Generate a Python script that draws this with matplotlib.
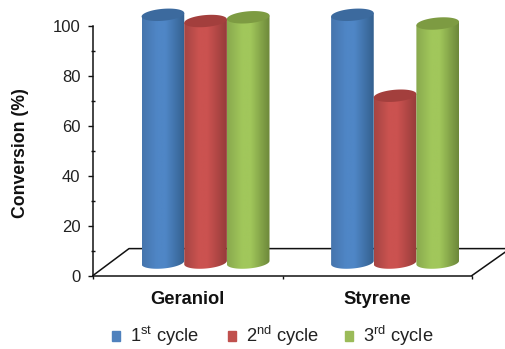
import numpy as np
import matplotlib
matplotlib.use("Agg")
import matplotlib.pyplot as plt
from matplotlib.path import Path
from matplotlib.patches import Patch, PathPatch
from matplotlib.colors import LinearSegmentedColormap

plt.rcParams['font.family'] = ['Liberation Sans', 'DejaVu Sans']
plt.rcParams['mathtext.fontset'] = 'custom'
plt.rcParams['mathtext.rm'] = 'Liberation Sans'
plt.rcParams['mathtext.default'] = 'regular'

categories = ['Geraniol', 'Styrene']
series_labels = [r'1$^{st}$ cycle', r'2$^{nd}$ cycle', r'3$^{rd}$ cycle']
first_cycle = [99.5, 99.5]
second_cycle = [97, 67]
third_cycle = [98.5, 96]
series = [first_cycle, second_cycle, third_cycle]
y_ticks = [0, 20, 40, 60, 80, 100]

legend_colors = ['#4f81bd', '#c0504d', '#9bbb59']
ramps = [['#4675ad', '#4f86c6', '#4f86c6', '#34608f'],
         ['#a54543', '#cb5350', '#cb5250', '#963c3a'],
         ['#89a94e', '#a1c75b', '#a1c75b', '#6d883a']]
top_colors = ['#3c6a9e', '#a33f3d', '#7d9b42']

W, H = 505, 349
fig = plt.figure(figsize=(W / 100, H / 100), dpi=100, facecolor='white')
x0, y0 = 93.0, 275.5
ax = fig.add_axes([x0 / W, 1 - y0 / H, (W - x0) / W, (y0 - 1.6) / H])
ax.set_xlim(0, (W - x0) / 189.5)
ax.set_ylim(0, (y0 - 1.6) / 2.49)

bar_w = 0.225
dx, dy = 0.094, 5.2          # half-depth shift of the 3D floor
e_h, tilt = 2.4, 0.7         # ellipse half-height and tilt, in y units

# floor
ax.plot([0, 0.19, 2.2], [0, 10.8, 10.8], color='#111111', lw=1.1, zorder=1, clip_on=False)
ax.plot([2, 2.19], [0, 10.2], color='#111111', lw=1.1, zorder=1, clip_on=False)

t = np.linspace(0, 2 * np.pi, 121)
z = 2
for s, vals in enumerate(series):
    cmap = LinearSegmentedColormap.from_list('c', list(zip([0, 0.35, 0.55, 1], ramps[s])))
    for c, v in enumerate(vals):
        cx = c + 0.5 + (s - 1) * bar_w + dx
        xl, xr = cx - bar_w / 2, cx + bar_w / 2
        base, top = dy, dy + v
        tt = np.linspace(np.pi, 2 * np.pi, 60)
        bx = cx + bar_w / 2 * np.cos(tt)
        by = base + e_h * np.sin(tt) + tilt * np.cos(tt)
        ux = bx[::-1]
        uy = top + tilt * np.cos(tt[::-1])
        verts = np.vstack([np.c_[bx, by], np.c_[ux, uy], [[bx[0], by[0]]]])
        body = PathPatch(Path(verts), transform=ax.transData, fc='none', ec='none')
        ax.add_patch(body)
        im = ax.imshow(np.linspace(0, 1, 64)[None, :], cmap=cmap, aspect='auto',
                       extent=[xl, xr, base - 5, top + 5], zorder=z, interpolation='bilinear')
        im.set_clip_path(body)
        ax.fill(cx + bar_w / 2 * np.cos(t),
                top + e_h * np.sin(t) + tilt * np.cos(t),
                color=top_colors[s], lw=0, zorder=z + 0.1)
        z += 0.2
ax.set_xlim(0, (W - x0) / 189.5)
ax.set_ylim(0, (y0 - 1.6) / 2.49)

for side in ['top', 'right']:
    ax.spines[side].set_visible(False)
ax.spines['left'].set_bounds(0, 100)
ax.spines['bottom'].set_bounds(0, 2)
for side in ['left', 'bottom']:
    ax.spines[side].set_linewidth(1.1)
    ax.spines[side].set_color('#111111')
ax.patch.set_alpha(0)

ax.set_yticks(y_ticks)
ax.set_yticks([10, 30, 50, 70, 90], minor=True)
ax.tick_params(axis='y', which='major', length=3.5, width=1, pad=5.5, labelsize=12, labelcolor='#222222', color='#111111')
ax.tick_params(axis='y', which='minor', length=3, width=1, direction='inout', color='#111111')
ax.set_xticks([0, 1, 2])
ax.set_xticklabels(['', '', ''])
ax.set_xticks([0.5, 1.5], minor=True)
ax.set_xticklabels(categories, minor=True, fontweight='bold', fontsize=13.2, color='#111111')
ax.tick_params(axis='x', which='major', length=2.5, width=1, color='#111111')
ax.tick_params(axis='x', which='minor', length=0, pad=10.8)

fig.text(21 / W, 1 - 153 / H, 'Conversion (%)', rotation=90, fontweight='bold', fontsize=12.7,
         ha='center', va='center', color='#111111')

legend_left = [112, 228, 345]
for c, l, xl in zip(legend_colors, series_labels, legend_left):
    fig.legend(handles=[Patch(color=c, label=l)], loc='lower left', bbox_to_anchor=(xl / W, 0.5 / H),
               frameon=False, fontsize=13.2, handlelength=0.46, handleheight=0.46, handletextpad=0.5,
               labelcolor='#222222', borderpad=0, borderaxespad=0)

fig.savefig('out.png', dpi=100, facecolor='white')
